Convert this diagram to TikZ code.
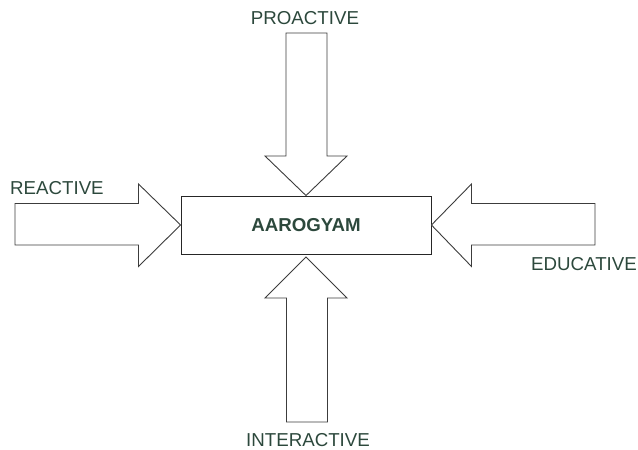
\documentclass[tikz,border=0pt]{standalone}
\usepackage{fontspec}
\setmainfont{Liberation Sans}
\definecolor{labelgreen}{RGB}{44,72,60}
\definecolor{outline}{RGB}{60,60,60}
\begin{document}
\begin{tikzpicture}[x=1pt,y=-1pt,
  blockarrow/.style={draw=outline,line width=0.9pt,line join=miter,fill=white},
  label/.style={text=labelgreen,font=\fontsize{18.7}{22}\selectfont,inner sep=0pt},
  core/.style={draw=black!85,line width=0.9pt,minimum width=250pt,minimum height=58pt,
    inner sep=0pt,text=labelgreen,font=\fontsize{18.7}{22}\selectfont\bfseries}]
\useasboundingbox (0,0) rectangle (638,450);

% central block
\node[core] (core) at (306,225) {AAROGYAM};

% block arrow from the top
\draw[blockarrow] (286,33) -- (327,33) -- (327,156) -- (347,156) -- (core.north)
  -- (265,156) -- (286,156) -- cycle;
% block arrow from below
\coordinate (bottip) at (306,257);
\draw[blockarrow] (286.5,422) -- (327.5,422) -- (327.5,298) -- (347,298) -- (bottip)
  -- (265,298) -- (286.5,298) -- cycle;
% block arrow from the left
\draw[blockarrow] (15,203.5) -- (138.5,203.5) -- (138.5,184) -- (core.west)
  -- (138.5,266.5) -- (138.5,245) -- (15,245) -- cycle;
% block arrow from the right
\draw[blockarrow] (595,203.5) -- (471.5,203.5) -- (471.5,184) -- (core.east)
  -- (471.5,266.5) -- (471.5,245) -- (595,245) -- cycle;

% labels
\node[label,anchor=base] (proactive) at (305,24) {PROACTIVE};
\node[label,anchor=base west] (reactive) at (10,194.5) {REACTIVE};
\node[label,anchor=base west] (educative) at (531,270) {EDUCATIVE};
\node[label,anchor=base] (interactive) at (308,446) {INTERACTIVE};
\end{tikzpicture}
\end{document}
